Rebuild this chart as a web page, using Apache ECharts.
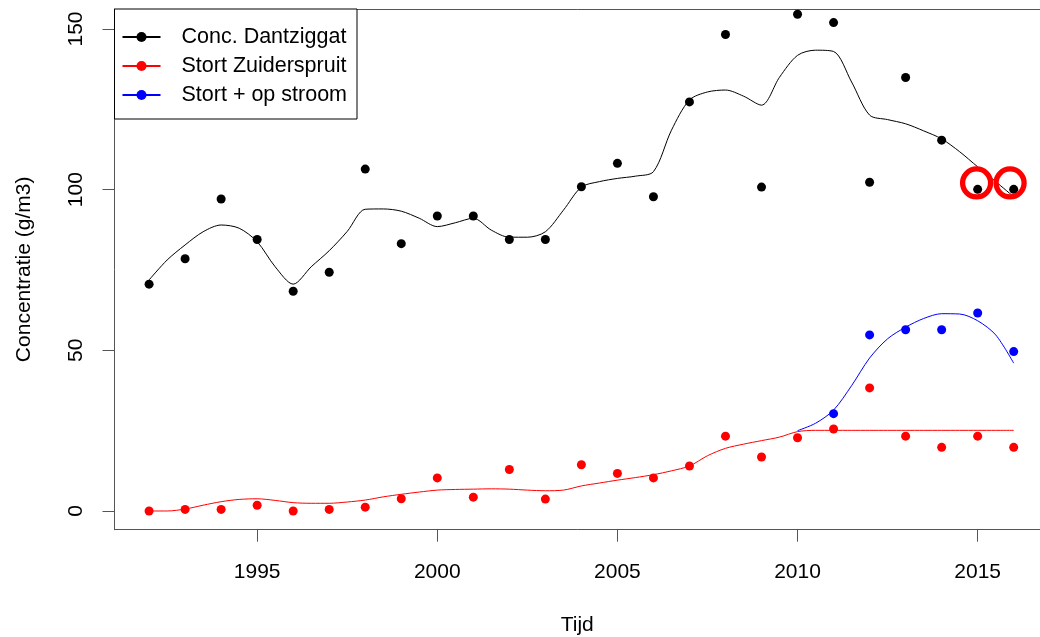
<!DOCTYPE html>
<html>
<head>
<meta charset="utf-8">
<script src="https://cdn.jsdelivr.net/npm/echarts@6/dist/echarts.min.js"></script>
<style>
  html, body { margin: 0; padding: 0; background: #fff; }
  #chart { width: 1040px; height: 637px; }
</style>
</head>
<body>
<div id="chart"></div>
<script>
// Measured yearly concentrations (g/m3)
const years = [1992, 1993, 1994, 1995, 1996, 1997, 1998, 1999, 2000, 2001, 2002, 2003,
               2004, 2005, 2006, 2007, 2008, 2009, 2010, 2011, 2012, 2013, 2014, 2015, 2016];
const dantziggat = [70.6, 78.5, 97.1, 84.5, 68.4, 74.3, 106.4, 83.2, 91.8, 91.8, 84.5, 84.5,
                    100.9, 108.2, 97.8, 127.3, 148.3, 100.8, 154.6, 152.0, 102.3, 134.9, 115.4, 100.1, 100.1];
const zuiderspruit = [0.0, 0.5, 0.5, 1.8, 0.0, 0.5, 1.2, 3.8, 10.3, 4.3, 12.9, 3.7,
                      14.4, 11.7, 10.3, 14.0, 23.3, 16.8, 22.8, 25.5, 38.3, 23.3, 19.8, 23.3, 19.8];
const stroomYears = [2011, 2012, 2013, 2014, 2015, 2016];
const stortOpStroom = [30.3, 54.8, 56.4, 56.4, 61.6, 49.6];

// Smoothed trend lines, sampled every half year
const trendYears = [1992, 1992.5, 1993, 1993.5, 1994, 1994.5, 1995, 1995.5, 1996, 1996.5, 1997, 1997.5,
                    1998, 1998.5, 1999, 1999.5, 2000, 2000.5, 2001, 2001.5, 2002, 2002.5, 2003, 2003.5,
                    2004, 2004.5, 2005, 2005.5, 2006, 2006.5, 2007, 2007.5, 2008, 2008.5, 2009, 2009.5,
                    2010, 2010.5, 2011, 2011.5, 2012, 2012.5, 2013, 2013.5, 2014, 2014.5, 2015, 2015.5, 2016];
const trendDantziggat = [71.9, 78.1, 82.8, 86.9, 89.0, 88.0, 83.8, 76.0, 70.6, 76.0, 81.0, 87.0,
                         93.9, 94.0, 93.3, 91.1, 88.5, 89.7, 91.1, 87.4, 85.2, 85.2, 86.9, 93.6,
                         100.8, 102.5, 103.5, 104.2, 105.6, 118.5, 127.9, 130.4, 131.0, 129.1, 126.3, 135.0,
                         141.8, 143.4, 143.0, 133.5, 123.2, 121.8, 120.5, 118.3, 115.8, 111.8, 107.1, 102.5, 97.8];
const trendZuiderspruit = [0.0, 0.0, 0.6, 1.8, 2.9, 3.6, 3.8, 3.3, 2.6, 2.4, 2.4, 2.8,
                           3.4, 4.4, 5.2, 5.9, 6.5, 6.7, 6.8, 6.9, 6.8, 6.5, 6.3, 6.5,
                           7.8, 8.7, 9.6, 10.4, 11.3, 12.5, 14.0, 17.2, 19.5, 20.8, 21.9, 23.0,
                           24.7, 25.1, 25.1, 25.1, 25.1, 25.1, 25.1, 25.1, 25.1, 25.1, 25.1, 25.1, 25.1];
const trendStroomYears = [2010, 2010.5, 2011, 2011.5, 2012, 2012.5, 2013, 2013.5, 2014, 2014.5, 2015, 2015.5, 2016];
const trendStortOpStroom = [25.0, 27.3, 31.4, 39.0, 47.6, 53.6, 57.2, 59.9, 61.4, 61.3, 59.2, 54.8, 46.0];

// Highlighted observations (circled)
const highlight = [[2014.97, 102.1], [2015.90, 102.1]];

const xTicks = [1995, 2000, 2005, 2010, 2015];
const yTicks = [0, 50, 100, 150];

const names = ['Conc. Dantziggat', 'Stort Zuiderspruit', 'Stort + op stroom'];
const colors = ['#000000', '#FF0000', '#0000FF'];

const zip = (xs, ys) => xs.map((x, i) => [x, ys[i]]);
const FONT = '"Liberation Sans", Arial, sans-serif';
const AXIS_GREY = '#555555';
const X_MIN = 1991.04, X_MAX = 2016.73;

function trend(name, xs, ys, color) {
  return {
    name: name, type: 'line', data: zip(xs, ys), smooth: 0.3,
    showSymbol: false, symbol: 'circle', symbolSize: 9,
    lineStyle: { color: color, width: 1 }, itemStyle: { color: color },
    silent: true, animation: false, z: 2
  };
}
function points(name, xs, ys, color) {
  return {
    name: name, type: 'scatter', data: zip(xs, ys), symbol: 'circle', symbolSize: 9,
    itemStyle: { color: color, opacity: 1 }, silent: true, animation: false, z: 3
  };
}

const chart = echarts.init(document.getElementById('chart'), null, { renderer: 'canvas' });
chart.setOption({
  animation: false,
  backgroundColor: '#ffffff',
  textStyle: { fontFamily: FONT },
  grid: { left: 114.5, top: 9, right: 0, bottom: 107.3, show: false,
          containLabel: false, outerBoundsMode: 'none' },
  xAxis: [{
    type: 'value', min: X_MIN, max: X_MAX, position: 'bottom',
    name: 'Tijd', nameLocation: 'middle', nameGap: 85,
    nameTextStyle: { fontSize: 21, color: '#000', fontFamily: FONT },
    axisLine: { show: true, onZero: false, lineStyle: { color: AXIS_GREY, width: 1 } },
    axisTick: { show: true, length: 12, customValues: xTicks, lineStyle: { color: AXIS_GREY } },
    axisLabel: { customValues: xTicks, fontSize: 21, color: '#000', margin: 32, fontFamily: FONT,
                 formatter: v => String(v) },
    splitLine: { show: false }
  }, {
    // top edge of the plot frame
    type: 'value', min: X_MIN, max: X_MAX, position: 'top',
    axisLine: { show: true, onZero: false, lineStyle: { color: AXIS_GREY, width: 1 } },
    axisTick: { show: false }, axisLabel: { show: false }, splitLine: { show: false }
  }],
  yAxis: {
    type: 'value', min: -5.82, max: 156.22,
    name: 'Concentratie (g/m3)', nameLocation: 'middle', nameGap: 80, nameRotate: 90,
    nameTextStyle: { fontSize: 21, color: '#000', fontFamily: FONT },
    axisLine: { show: true, onZero: false, lineStyle: { color: AXIS_GREY, width: 1 } },
    axisTick: { show: true, length: 12, customValues: yTicks, lineStyle: { color: AXIS_GREY } },
    axisLabel: { customValues: yTicks, fontSize: 21, color: '#000', margin: 28, rotate: 90, fontFamily: FONT,
                 formatter: v => String(v) },
    splitLine: { show: false }
  },
  legend: {
    data: names, orient: 'vertical', left: 114.5, top: 9,
    padding: [17, 10, 13, 7], itemGap: 7, itemWidth: 38, itemHeight: 12.5,
    backgroundColor: '#ffffff', borderColor: '#000', borderWidth: 1, borderRadius: 0,
    selectedMode: false,
    textStyle: { fontSize: 21.5, color: '#000', fontFamily: FONT, padding: [0, 0, 0, 16] }
  },
  series: [
    trend(names[0], trendYears, trendDantziggat, colors[0]),
    trend(names[1], trendYears, trendZuiderspruit, colors[1]),
    trend(names[2], trendStroomYears, trendStortOpStroom, colors[2]),
    points(names[0], years, dantziggat, colors[0]),
    points(names[1], years, zuiderspruit, colors[1]),
    points(names[2], stroomYears, stortOpStroom, colors[2]),
    {
      type: 'scatter', data: highlight, symbol: 'circle', symbolSize: 28,
      itemStyle: { color: 'rgba(0,0,0,0)', borderColor: '#FF0000', borderWidth: 5.3, opacity: 1 },
      silent: true, animation: false, z: 4
    }
  ]
});
</script>
</body>
</html>
